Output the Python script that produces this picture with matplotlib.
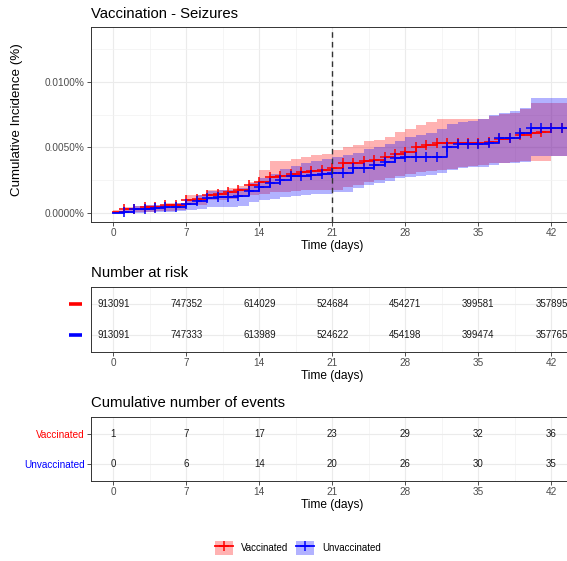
import numpy as np
import matplotlib
matplotlib.use('Agg')
import matplotlib.pyplot as plt
import matplotlib.transforms as mtransforms
from matplotlib.patches import Patch
from matplotlib.lines import Line2D
from matplotlib.ticker import FuncFormatter, MultipleLocator

plt.rcParams['font.family'] = ['Liberation Sans', 'DejaVu Sans']

# ---- data (cumulative incidence per 100 000 = 0.001 %), one value per day 0..44
days = np.arange(0, 45)
vacc = [0.1, 0.3, 0.35, 0.45, 0.5, 0.6, 0.65, 1.0, 1.05, 1.38, 1.45, 1.6, 1.77, 2.15, 2.4,
        2.75, 2.8, 3.0, 3.13, 3.25, 3.3, 3.43, 3.8, 3.85, 4.0, 4.05, 4.3, 4.5, 4.68, 5.07,
        5.15, 5.36, 5.36, 5.36, 5.36, 5.36, 5.45, 5.62, 5.7, 5.95, 6.13, 6.2, 6.45, 6.45, 6.45]
vacc_lo = [0, 0.05, 0.08, 0.12, 0.15, 0.2, 0.25, 0.6, 0.62, 1.0, 1.0, 1.1, 1.2, 1.38, 1.5,
           1.6, 1.65, 1.7, 1.75, 1.75, 1.77, 1.8, 2.0, 2.15, 2.4, 2.5, 2.66, 2.8, 3.0, 3.16,
           3.2, 3.3, 3.4, 3.54, 3.6, 3.7, 3.8, 3.85, 3.9, 3.95, 3.97, 3.97, 4.35, 4.35, 4.35]
vacc_hi = [0.25, 0.5, 0.55, 0.6, 0.65, 0.75, 0.8, 1.38, 1.4, 1.77, 1.8, 1.95, 2.05, 2.4, 3.3,
           3.95, 4.0, 4.1, 4.28, 4.4, 4.5, 4.8, 5.0, 5.2, 5.5, 5.6, 5.8, 6.2, 6.4, 6.7,
           6.9, 7.2, 7.2, 7.2, 7.2, 7.2, 7.4, 7.55, 7.65, 7.9, 8.35, 8.35, 8.35, 8.35, 8.35]

unvacc = [0, 0.1, 0.3, 0.35, 0.4, 0.45, 0.5, 0.67, 0.95, 1.18, 1.2, 1.2, 1.3, 1.7, 1.98,
          2.28, 2.54, 2.8, 2.85, 2.9, 3.0, 3.03, 3.03, 3.42, 3.45, 3.67, 3.92, 4.17, 4.3, 4.3,
          4.3, 4.3, 5.07, 5.26, 5.26, 5.26, 5.32, 5.7, 5.75, 6.08, 6.5, 6.5, 6.5, 6.5, 6.5]
unvacc_lo = [0, 0, 0.05, 0.08, 0.1, 0.12, 0.15, 0.23, 0.35, 0.48, 0.5, 0.5, 0.55, 0.87, 1.0,
             1.1, 1.2, 1.3, 1.4, 1.45, 1.5, 1.6, 1.65, 1.9, 2.15, 2.3, 2.45, 2.66, 2.75, 2.8,
             2.9, 3.05, 3.3, 3.45, 3.5, 3.55, 3.7, 3.8, 3.85, 3.9, 4.35, 4.35, 4.35, 4.35, 4.35]
unvacc_hi = [0.1, 0.3, 0.55, 0.6, 0.62, 0.7, 0.75, 1.1, 1.4, 1.7, 1.75, 1.8, 1.9, 2.3, 2.7,
             3.0, 3.4, 3.6, 3.8, 4.0, 4.15, 4.3, 4.45, 4.6, 4.9, 5.0, 5.3, 5.5, 5.8, 5.95,
             6.1, 6.4, 6.8, 6.9, 7.0, 7.2, 7.45, 7.6, 7.8, 8.0, 8.75, 8.75, 8.75, 8.75, 8.75]

table_days = [0, 7, 14, 21, 28, 35, 42]
risk_vacc = [913091, 747352, 614029, 524684, 454271, 399581, 357895]
risk_unvacc = [913091, 747333, 613989, 524622, 454198, 399474, 357765]
events_vacc = [1, 7, 17, 23, 29, 32, 36]
events_unvacc = [0, 6, 14, 20, 26, 30, 35]

groups = ['Vaccinated', 'Unvaccinated']
colors = ['#FF0000', '#0000FF']

W, H = 567, 561
fig = plt.figure(figsize=(W / 100, H / 100), dpi=100)


def px_axes(left, top, right, bottom):
    return fig.add_axes([left / W, 1 - bottom / H, (right - left) / W, (bottom - top) / H])


def theme_bw(ax):
    for s in ax.spines.values():
        s.set_color('#333333')
        s.set_linewidth(0.7)
    ax.set_facecolor('white')
    ax.grid(True, which='major', color='#EBEBEB', lw=0.8)
    ax.grid(True, which='minor', color='#F2F2F2', lw=0.5)
    ax.set_axisbelow(True)
    ax.tick_params(which='major', length=2.9, width=0.6, color='#333333',
                   labelsize=7.2, labelcolor='#4D4D4D', pad=1.8)
    ax.tick_params(which='minor', length=0)
    ax.set_xlim(-2.1, 44.1)
    ax.xaxis.set_major_locator(MultipleLocator(7))
    ax.xaxis.set_minor_locator(MultipleLocator(3.5))
    ax.set_xlabel('Time (days)', fontsize=8.6, labelpad=1.5)


to_pct = 1e-3  # per 100 000 -> percent

# ---- main curve panel
ax = px_axes(91.4, 27.3, 573.3, 221.7)
theme_bw(ax)
for y, lo, hi, c in [(vacc, vacc_lo, vacc_hi, colors[0]),
                     (unvacc, unvacc_lo, unvacc_hi, colors[1])]:
    y = np.array(y) * to_pct
    ax.fill_between(days, np.array(lo) * to_pct, np.array(hi) * to_pct,
                    step='post', color=c, alpha=0.3, lw=0)
    ax.step(days, y, where='post', color=c, lw=1.3)
    ax.plot(days[1:], y[1:], ls='none', marker='+', ms=7, mew=1.1, color=c)
ax.axvline(21, color='#333333', lw=1.0, ls=(0, (4, 3)))
ax.set_ylim(-0.00064, 0.01413)
ax.yaxis.set_major_locator(MultipleLocator(0.005))
ax.yaxis.set_minor_locator(MultipleLocator(0.0025))
ax.yaxis.set_major_formatter(FuncFormatter(lambda v, p: f'{v:.4f}%'))
fig.text(16.7 / W, 1 - 120 / H, 'Cumulative Incidence (%)', rotation=90,
         ha='center', va='center', fontsize=9.6)
fig.text(91 / W, 1 - 18.3 / H, 'Vaccination - Seizures', fontsize=10.7, va='baseline')

# ---- number at risk table
ax2 = px_axes(91.4, 286.7, 573.3, 351.7)
theme_bw(ax2)
ax2.set_ylim(2.55, 0.45)
ax2.set_yticks([1, 2])
ax2.set_yticklabels(['', ''])
ax2.tick_params(axis='y', length=0)
for row, vals in enumerate([risk_vacc, risk_unvacc], start=1):
    for d, n in zip(table_days, vals):
        ax2.text(d, row, str(n), ha='center', va='center', fontsize=7, color='#1A1A1A')
trans = mtransforms.blended_transform_factory(ax2.transAxes, ax2.transData)
x0 = (69 - 91.4) / (573.3 - 91.4)
x1 = (82 - 91.4) / (573.3 - 91.4)
for row, c in enumerate(colors, start=1):
    ax2.add_line(Line2D([x0, x1], [row, row], transform=trans, color=c, lw=2.6,
                        solid_capstyle='butt', clip_on=False))
fig.text(91 / W, 1 - 276.7 / H, 'Number at risk', fontsize=10.7, va='baseline')

# ---- cumulative events table
ax3 = px_axes(91.4, 416.7, 573.3, 480.7)
theme_bw(ax3)
ax3.set_ylim(2.567, 0.433)
ax3.set_yticks([1, 2])
ax3.set_yticklabels(groups)
for lab, c in zip(ax3.get_yticklabels(), colors):
    lab.set_color(c)
for row, vals in enumerate([events_vacc, events_unvacc], start=1):
    for d, n in zip(table_days, vals):
        ax3.text(d, row, str(n), ha='center', va='center', fontsize=7, color='#1A1A1A')
fig.text(91 / W, 1 - 407 / H, 'Cumulative number of events', fontsize=10.7, va='baseline')

# ---- legend
handles = [(Patch(facecolor=c, alpha=0.3, lw=0),
            Line2D([], [], color=c, lw=1.3, marker='+', ms=7, mew=1.1)) for c in colors]
fig.legend(handles, groups, loc='center', bbox_to_anchor=(297.8 / W, 1 - 548 / H),
           ncol=2, frameon=False, fontsize=7, handlelength=1.85, handleheight=1.85,
           handletextpad=0.85, columnspacing=0.75, numpoints=1, borderpad=0)

fig.savefig('out.png', dpi=100)
